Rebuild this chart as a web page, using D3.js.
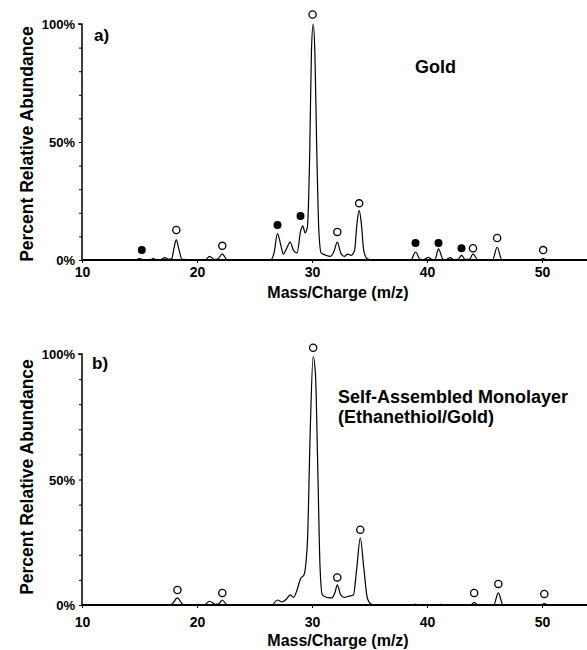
<!doctype html>
<html>
<head>
<meta charset="utf-8">
<script src="https://cdnjs.cloudflare.com/ajax/libs/d3/7.8.5/d3.min.js"></script>
<style>
  body { margin: 0; background: #fff; }
  svg { display: block; }
  text { font-family: 'Liberation Sans', Arial, Helvetica, sans-serif; font-weight: bold; fill: #000; }
</style>
</head>
<body>
<div id="chart"></div>
<script>
// m/z ticks and y ticks
const xTicks = [10, 20, 30, 40, 50];
const yTicks = [0, 10, 20, 30, 40, 50, 60, 70, 80, 90, 100];
const yLabels = { 0: '0%', 50: '50%', 100: '100%' };

// a) Gold - trace [m/z, % abundance]
const goldTrace = [
  [10, 0], [14.6, 0], [15.0, 0.6], [15.4, 0], [15.9, 0], [16.2, 0.6], [16.5, 0],
  [16.9, 0.2], [17.2, 1], [17.5, 0.3], [17.8, 0.6], [18.0, 5], [18.2, 8.5], [18.4, 5], [18.7, 0.3],
  [20.7, 0], [21.1, 1.5], [21.5, 0.3], [21.8, 0.4], [22.2, 2.6], [22.6, 0.2],
  [26.4, 0], [26.7, 3], [27.0, 11.2], [27.3, 6], [27.5, 2.5], [27.8, 5], [28.1, 7.6], [28.4, 4],
  [28.7, 3], [29.0, 12], [29.2, 14.5], [29.4, 11.5], [29.6, 14], [29.8, 45], [29.95, 88],
  [30.1, 100], [30.25, 88], [30.4, 50], [30.6, 12], [30.8, 3], [31.2, 2], [31.6, 1.5],
  [31.9, 3.5], [32.2, 7.6], [32.5, 3], [32.8, 1.5], [33.1, 2.5], [33.4, 2], [33.7, 4],
  [33.9, 15], [34.1, 21], [34.3, 15], [34.5, 4], [34.8, 0.5], [35.2, 0],
  [38.6, 0], [39.0, 3.4], [39.4, 0.3], [39.7, 0.2], [40.1, 1.1], [40.5, 0.2], [40.7, 0.3],
  [41.0, 4.7], [41.4, 0.3], [41.7, 0.2], [42.0, 1], [42.3, 0.2], [42.7, 0.3], [43.0, 2],
  [43.3, 0.3], [43.7, 0.3], [44.0, 2.6], [44.4, 0.2], [45.7, 0], [46.1, 5.5], [46.5, 0.2],
  [49.8, 0], [50.1, 0.6], [50.4, 0], [54, 0]
];
const goldOpen = [[18.2, 12.7], [22.2, 6], [30.05, 104], [32.2, 11.9], [34.1, 24], [44.0, 5], [46.1, 9.3], [50.1, 4.2]];
const goldFilled = [[15.2, 4.2], [27.0, 14.8], [29.0, 18.6], [39.0, 7.2], [41.0, 7.2], [43.0, 5]];

// b) Self-assembled monolayer
const samTrace = [
  [10, 0], [17.4, 0], [17.8, 0.3], [18.3, 2.8], [18.8, 0.2], [20.6, 0], [21.1, 1.5], [21.6, 0.3],
  [21.9, 0.5], [22.2, 2], [22.6, 0.2], [26.5, 0], [27.0, 2], [27.4, 1.2], [27.8, 2.5], [28.1, 4],
  [28.4, 3], [28.7, 6], [29.0, 10.5], [29.3, 12], [29.6, 25], [29.85, 70], [30.1, 99], [30.3, 92],
  [30.5, 55], [30.7, 15], [30.9, 4], [31.3, 3], [31.7, 2.8], [32.0, 5], [32.2, 8], [32.5, 4],
  [32.8, 3], [33.2, 3.5], [33.6, 4], [33.9, 15], [34.2, 26.7], [34.5, 15], [34.8, 3], [35.1, 0.5],
  [35.5, 0], [38.8, 0], [39.0, 0.4], [39.3, 0], [41.0, 0], [41.2, 0.3], [41.4, 0], [43.8, 0],
  [44.1, 1], [44.4, 0], [45.8, 0], [46.2, 4.8], [46.6, 0.2], [49.9, 0], [50.2, 0.6], [50.5, 0], [54, 0]
];
const samOpen = [[18.3, 6], [22.2, 4.8], [30.1, 102.5], [32.2, 11], [34.2, 30], [44.1, 4.8], [46.2, 8.4], [50.2, 4.4]];

const W = 587, H = 650;
const svg = d3.select('#chart').append('svg').attr('width', W).attr('height', H);

const x = d3.scaleLinear().domain([10, 54]).range([82, 588]);

function drawPanel(p) {
  const y = d3.scaleLinear().domain([0, 100]).range([p.bottom, p.top]);
  const g = svg.append('g');

  // y axis
  const ya = g.append('g').attr('transform', 'translate(' + x(10) + ',0)')
    .call(d3.axisLeft(y).tickValues(yTicks).tickSize(3).tickPadding(4)
      .tickFormat(d => yLabels[d] || ''));
  ya.select('.domain').attr('stroke-width', 1.5).attr('d', 'M0,' + y(0) + 'V' + y(100) + 'H-4');
  ya.selectAll('text').style('font-size', '13px').attr('font-family', null).attr('dy', '0.35em');

  // x axis
  const xa = g.append('g').attr('transform', 'translate(0,' + y(0) + ')')
    .call(d3.axisBottom(x).tickValues(xTicks).tickSize(3).tickPadding(p.tickPad));
  xa.select('.domain').attr('stroke-width', 2).attr('d', 'M' + x(10) + ',0H' + W);
  xa.selectAll('text').style('font-size', '14px').attr('font-family', null);

  // spectrum trace
  const line = d3.line().x(d => x(d[0])).y(d => y(d[1])).curve(d3.curveMonotoneX);
  g.append('path').datum(p.trace).attr('d', line)
    .attr('fill', 'none').attr('stroke', '#000').attr('stroke-width', 1.2);

  // peak markers
  g.selectAll('circle.open').data(p.open).join('circle').attr('class', 'open')
    .attr('cx', d => x(d[0])).attr('cy', d => y(d[1])).attr('r', 3.6)
    .attr('fill', '#fff').attr('stroke', '#000').attr('stroke-width', 1.3);
  g.selectAll('circle.filled').data(p.filled).join('circle').attr('class', 'filled')
    .attr('cx', d => x(d[0])).attr('cy', d => y(d[1])).attr('r', 4)
    .attr('fill', '#000');

  // titles
  g.append('text').attr('x', 338).attr('y', p.xTitleY).attr('text-anchor', 'middle')
    .style('font-size', '16px').text('Mass/Charge (m/z)');
  g.append('text').attr('transform', 'translate(33,' + p.yTitleC + ') rotate(-90)')
    .attr('text-anchor', 'middle').style('font-size', '17.5px').text('Percent Relative Abundance');
  g.append('text').attr('x', p.tagX).attr('y', p.tagY).style('font-size', '17px').text(p.tag);
  p.notes.forEach(n => {
    g.append('text').attr('x', n[0]).attr('y', n[1]).style('font-size', '18px').text(n[2]);
  });
}

drawPanel({
  top: 24, bottom: 260, tickPad: 4, trace: goldTrace, open: goldOpen, filled: goldFilled,
  xTitleY: 298, yTitleC: 144, tag: 'a)', tagX: 94, tagY: 41,
  notes: [[415, 73, 'Gold']]
});
drawPanel({
  top: 354, bottom: 605, tickPad: 9, trace: samTrace, open: samOpen, filled: [],
  xTitleY: 646, yTitleC: 477, tag: 'b)', tagX: 92, tagY: 369,
  notes: [[338, 403, 'Self-Assembled Monolayer'], [338, 423, '(Ethanethiol/Gold)']]
});
</script>
</body>
</html>
